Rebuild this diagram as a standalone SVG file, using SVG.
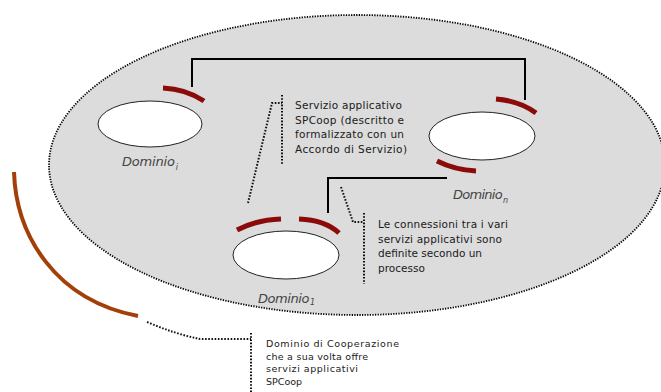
<svg xmlns="http://www.w3.org/2000/svg" width="661" height="392" viewBox="0 0 661 392">
  <style>
    .domain { fill: #dcdcdc; stroke: #000; stroke-width: 1.8; stroke-dasharray: 1.3 1.3; }
    .node { fill: #ffffff; stroke: #222; stroke-width: 1; }
    .service { fill: none; stroke: #8b0a0a; stroke-width: 5; }
    .link { fill: none; stroke: #000; stroke-width: 2; }
    .leader { fill: none; stroke: #111; stroke-width: 2; stroke-dasharray: 1.6 1.6; }
    .note { font-family: "DejaVu Sans", "Liberation Sans", sans-serif; font-size: 10.5px; fill: #1a1a1a; }
    .small { font-size: 9.5px; }
    .label { font-family: "DejaVu Sans", "Liberation Sans", sans-serif; font-style: italic; font-size: 13px; fill: #444; }
    .sub { font-size: 8px; }
  </style>

  <!-- cooperation domain -->
  <g id="cooperation-domain">
    <ellipse class="domain" cx="357" cy="165" rx="308" ry="150"/>
  </g>
  <path id="domain-service" d="M14,172 C16,235 55,300 138,316" fill="none" stroke="#a3400a" stroke-width="4"/>

  <!-- connectors between services -->
  <g id="connectors">
    <path class="link" d="M192,87 V59 H525 V100"/>
    <path class="link" d="M328,213 V178 H447"/>
  </g>

  <!-- domains -->
  <g id="dominio-i">
    <ellipse class="node" cx="150" cy="124" rx="52" ry="23"/>
    <path class="service" d="M163,88 Q186,89 204,101"/>
    <text class="label" x="122" y="166" textLength="56" lengthAdjust="spacing">Dominio<tspan class="sub" dx="1" dy="4">i</tspan></text>
  </g>

  <g id="dominio-n">
    <ellipse class="node" cx="482" cy="136" rx="53" ry="24"/>
    <path class="service" d="M496,99 Q520,101 536,113"/>
    <path class="service" d="M437,161 Q455,170 476,171"/>
    <text class="label" x="453" y="199" textLength="55">Dominio<tspan class="sub" dx="1" dy="4">n</tspan></text>
  </g>

  <g id="dominio-1">
    <ellipse class="node" cx="286" cy="255" rx="53" ry="24"/>
    <path class="service" d="M237,230 Q256,220 281,219"/>
    <path class="service" d="M299,219 Q325,220 339,233"/>
    <text class="label" x="258" y="303" textLength="57">Dominio<tspan class="sub" dx="1" dy="2">1</tspan></text>
  </g>

  <!-- annotations -->
  <g id="note-servizio">
    <path class="leader" d="M248,203 L272,103 H282 M282,95 V165"/>
    <text class="note" x="295" y="109" textLength="107">Servizio applicativo</text>
    <text class="note" x="295" y="123.5" textLength="109">SPCoop (descritto e</text>
    <text class="note" x="295" y="138" textLength="109">formalizzato con un</text>
    <text class="note" x="295" y="152.5" textLength="112">Accordo di Servizio)</text>
  </g>

  <g id="note-connessioni">
    <path class="leader" d="M341,187 L353,222 H364 M364,213 V284"/>
    <text class="note" x="378" y="228" textLength="130">Le connessioni tra i vari</text>
    <text class="note" x="378" y="243" textLength="124">servizi applicativi sono</text>
    <text class="note" x="378" y="257" textLength="104">definite secondo un</text>
    <text class="note" x="378" y="272" textLength="47">processo</text>
  </g>

  <g id="note-dominio">
    <path class="leader" d="M147,322 Q175,334 200,339 H251 M251,333 V392"/>
    <text class="note small" x="266" y="347" textLength="133">Dominio di Cooperazione</text>
    <text class="note small" x="266" y="359.5" textLength="102">che a sua volta offre</text>
    <text class="note small" x="266" y="372" textLength="92">servizi applicativi</text>
    <text class="note small" x="266" y="384.5">SPCoop</text>
  </g>
</svg>
